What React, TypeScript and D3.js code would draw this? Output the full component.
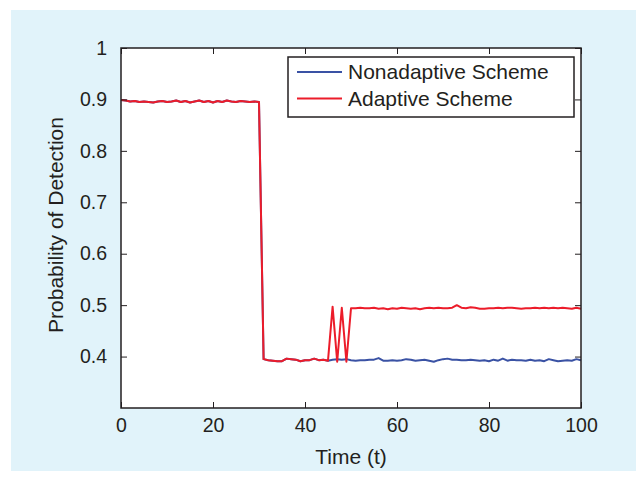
import { useEffect, useRef } from "react";
import * as d3 from "d3";

// shared section (t = 0..45), both schemes overlap here
const SHARED = [
  0.899, 0.898, 0.896, 0.897, 0.895, 0.896, 0.895, 0.894, 0.896, 0.897,
  0.895, 0.896, 0.898, 0.895, 0.897, 0.894, 0.896, 0.898, 0.895, 0.897,
  0.894, 0.897, 0.895, 0.898, 0.896, 0.895, 0.897, 0.896, 0.895, 0.896,
  0.895, 0.395, 0.393, 0.392, 0.391, 0.391, 0.396, 0.395, 0.394, 0.391,
  0.393, 0.393, 0.396, 0.393, 0.394, 0.392,
];

// t = 46..100
const NONADAPTIVE_TAIL = [
  0.394, 0.395, 0.394, 0.395, 0.393, 0.392, 0.393, 0.393, 0.394, 0.394,
  0.397, 0.392, 0.392, 0.393, 0.392, 0.393, 0.395, 0.394, 0.392, 0.393,
  0.394, 0.392, 0.390, 0.393, 0.395, 0.396, 0.394, 0.394, 0.393, 0.393,
  0.394, 0.393, 0.392, 0.393, 0.391, 0.394, 0.392, 0.396, 0.392, 0.394,
  0.393, 0.393, 0.392, 0.394, 0.392, 0.393, 0.391, 0.395, 0.393, 0.391,
  0.392, 0.393, 0.392, 0.395, 0.393,
];

const ADAPTIVE_TAIL = [
  0.497, 0.390, 0.495, 0.390, 0.494, 0.494, 0.495, 0.494, 0.494, 0.495,
  0.493, 0.494, 0.492, 0.494, 0.493, 0.495, 0.494, 0.493, 0.494, 0.492,
  0.494, 0.495, 0.494, 0.495, 0.494, 0.494, 0.495, 0.500, 0.495, 0.494,
  0.496, 0.495, 0.493, 0.493, 0.494, 0.494, 0.495, 0.494, 0.495, 0.495,
  0.494, 0.493, 0.494, 0.494, 0.495, 0.494, 0.495, 0.494, 0.495, 0.494,
  0.495, 0.494, 0.493, 0.495, 0.493,
];

const NONADAPTIVE = [...SHARED, ...NONADAPTIVE_TAIL];
const ADAPTIVE = [...SHARED, ...ADAPTIVE_TAIL];

const X_TICKS = [0, 20, 40, 60, 80, 100];
const Y_TICKS = [0.4, 0.5, 0.6, 0.7, 0.8, 0.9, 1];

const SERIES = [
  { name: "Nonadaptive Scheme", values: NONADAPTIVE, color: "#3a52a4" },
  { name: "Adaptive Scheme", values: ADAPTIVE, color: "#ec1c2a" },
];

export default function App() {
  const svgRef = useRef<SVGSVGElement>(null);

  useEffect(() => {
    const width = 636;
    const height = 483;
    const margin = { top: 48, right: 55, bottom: 75, left: 121 };
    const innerW = width - margin.left - margin.right;
    const innerH = height - margin.top - margin.bottom;
    const font = "'Liberation Sans', Arial, sans-serif";
    const tickFont = 19.5;
    const labelFont = 21;

    const svg = d3.select(svgRef.current);
    svg.selectAll("*").remove();

    // light blue panel
    svg.append("rect")
      .attr("x", 11).attr("y", 10)
      .attr("width", width - 11).attr("height", 461)
      .attr("fill", "#e1f3fa");

    const g = svg.append("g")
      .attr("transform", `translate(${margin.left},${margin.top})`);

    g.append("rect")
      .attr("width", innerW).attr("height", innerH)
      .attr("fill", "#fff");

    const x = d3.scaleLinear().domain([0, 100]).range([0, innerW]);
    const y = d3.scaleLinear().domain([0.3, 1]).range([innerH, 0]);

    // ----- Lines -----
    const line = d3.line<number>()
      .x((_, i) => x(i))
      .y((d) => y(d));

    SERIES.forEach((s) => {
      g.append("path")
        .datum(s.values)
        .attr("fill", "none")
        .attr("stroke", s.color)
        .attr("stroke-width", 2)
        .attr("stroke-linejoin", "round")
        .attr("d", line);
    });

    // ----- Axes (ticks inward on all sides) -----
    const tickLen = 6;
    const axisColor = "#231f20";
    const xAxisB = g.append("g")
      .attr("transform", `translate(0,${innerH})`)
      .call(d3.axisBottom(x).tickValues(X_TICKS).tickSizeInner(-tickLen).tickSizeOuter(0).tickPadding(10));
    const xAxisT = g.append("g")
      .call(d3.axisTop(x).tickValues(X_TICKS).tickSizeInner(-tickLen).tickSizeOuter(0).tickFormat(() => ""));
    const yAxisL = g.append("g")
      .call(d3.axisLeft(y).tickValues(Y_TICKS).tickSizeInner(-tickLen).tickSizeOuter(0).tickPadding(14)
        .tickFormat((d) => d3.format("")(+d)));
    const yAxisR = g.append("g")
      .attr("transform", `translate(${innerW},0)`)
      .call(d3.axisRight(y).tickValues(Y_TICKS).tickSizeInner(-tickLen).tickSizeOuter(0).tickFormat(() => ""));

    [xAxisB, xAxisT, yAxisL, yAxisR].forEach((a) => {
      a.select(".domain").remove();
      a.selectAll("line").attr("stroke", axisColor).attr("stroke-width", 1);
      a.selectAll("text")
        .attr("font-family", font)
        .attr("font-size", tickFont)
        .attr("fill", axisColor);
    });

    g.append("rect")
      .attr("width", innerW).attr("height", innerH)
      .attr("fill", "none")
      .attr("stroke", axisColor)
      .attr("stroke-width", 1.5);

    // Axis labels
    g.append("text")
      .attr("x", innerW / 2).attr("y", innerH + 56)
      .attr("text-anchor", "middle")
      .attr("font-family", font).attr("font-size", labelFont)
      .attr("fill", axisColor)
      .text("Time (t)");
    g.append("text")
      .attr("transform", "rotate(-90)")
      .attr("x", -innerH / 2 + 3).attr("y", -58)
      .attr("text-anchor", "middle")
      .attr("font-family", font).attr("font-size", labelFont)
      .attr("fill", axisColor)
      .text("Probability of Detection");

    // ----- Legend -----
    const legend = g.append("g").attr("transform", `translate(${288 - margin.left},${57 - margin.top})`);
    legend.append("rect")
      .attr("width", 286).attr("height", 60)
      .attr("fill", "#fff")
      .attr("stroke", axisColor)
      .attr("stroke-width", 1.5);
    SERIES.forEach((s, i) => {
      const row = legend.append("g").attr("transform", `translate(0,${15 + i * 26.5})`);
      row.append("line")
        .attr("x1", 9).attr("x2", 54)
        .attr("stroke", s.color).attr("stroke-width", 2);
      row.append("text")
        .attr("x", 60).attr("y", 7)
        .attr("font-family", font).attr("font-size", labelFont)
        .attr("fill", axisColor)
        .text(s.name);
    });
  }, []);

  return (
    <div style={{ position: "absolute", left: 0, top: 0 }}>
      <svg ref={svgRef} width={636} height={483} style={{ display: "block" }}></svg>
    </div>
  );
}
